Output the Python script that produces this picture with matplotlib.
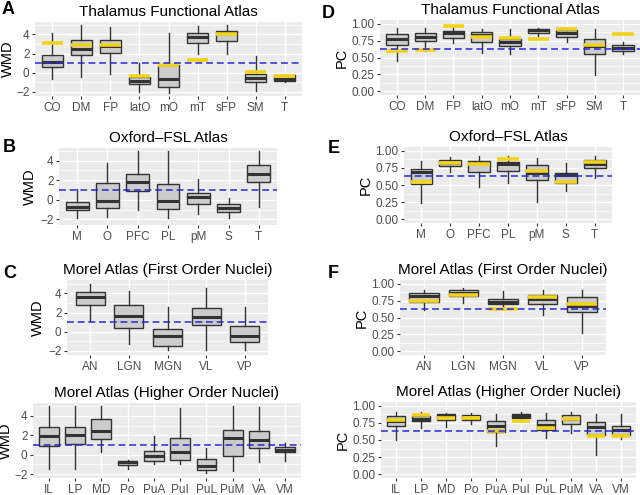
import matplotlib
matplotlib.use("Agg")
import matplotlib.pyplot as plt

plt.rcParams['font.family'] = ['Liberation Sans', 'DejaVu Sans']

# ---------------- data ----------------
# Panel A: Thalamus Functional Atlas (WMD)
a_cats = ["CO", "DM", "FP", "latO", "mO", "mT", "sFP", "SM", "T"]
a_whislo = [-0.65, -0.5, -0.15, -2.0, -2.1, 1.9, 1.9, -1.95, -0.95]
a_q1 = [0.55, 1.85, 2.1, -1.15, -1.55, 3.1, 3.3, -1.0, -0.9]
a_med = [1.13, 2.5, 2.75, -0.9, -0.65, 3.7, 4.1, -0.55, -0.65]
a_q3 = [1.8, 3.4, 3.4, -0.5, 0.8, 4.2, 4.4, -0.15, -0.3]
a_whishi = [4.2, 5.0, 4.75, 1.05, 4.2, 4.9, 5.0, 1.75, -0.25]
a_yellow = [3.1, 2.9, 2.85, -0.4, 0.8, 1.3, 4.05, 0.03, -0.4]

# Panel D: Thalamus Functional Atlas (PC)
d_cats = a_cats
d_whislo = [0.45, 0.60, 0.72, 0.56, 0.545, 0.82, 0.725, 0.235, 0.545]
d_q1 = [0.69, 0.745, 0.785, 0.725, 0.675, 0.86, 0.80, 0.55, 0.595]
d_med = [0.77, 0.80, 0.86, 0.835, 0.735, 0.90, 0.86, 0.67, 0.645]
d_q3 = [0.85, 0.86, 0.885, 0.875, 0.775, 0.92, 0.90, 0.77, 0.685]
d_whishi = [0.935, 0.935, 0.96, 0.92, 0.92, 0.935, 0.935, 0.92, 0.725]
d_yellow = [0.60, 0.61, 0.96, 0.80, 0.795, 0.77, 0.92, 0.685, 0.85]

# Panel B: Oxford-FSL Atlas (WMD)
b_cats = ["M", "O", "PFC", "PL", "pM", "S", "T"]
b_whislo = [-1.9, -1.8, -1.05, -1.9, -1.5, -1.9, -0.72]
b_q1 = [-1.06, -0.8, 0.9, -0.95, -0.38, -1.23, 1.77]
b_med = [-0.72, -0.1, 1.77, -0.14, 0.3, -0.82, 2.6]
b_q3 = [-0.2, 1.75, 2.6, 1.57, 0.65, -0.48, 3.55]
b_whishi = [1.06, 3.8, 5.0, 5.0, 2.08, 0.2, 5.0]

# Panel E: Oxford-FSL Atlas (PC)
e_cats = b_cats
e_whislo = [0.23, 0.69, 0.465, 0.53, 0.257, 0.41, 0.597]
e_q1 = [0.52, 0.78, 0.69, 0.70, 0.57, 0.524, 0.75]
e_med = [0.69, 0.815, 0.815, 0.80, 0.68, 0.645, 0.80]
e_q3 = [0.73, 0.87, 0.855, 0.84, 0.79, 0.67, 0.864]
e_whishi = [0.854, 0.91, 0.92, 0.92, 0.89, 0.825, 0.92]
e_yellow = [0.55, 0.815, 0.80, 0.88, 0.70, 0.55, 0.83]

# Panel C: Morel Atlas, first order nuclei (WMD)
c_cats = ["AN", "LGN", "MGN", "VL", "VP"]
c_whislo = [1.07, -1.24, -1.93, -1.86, -1.93]
c_q1 = [2.8, 0.38, -1.45, 0.69, -1.07]
c_med = [3.59, 1.66, -0.41, 1.55, -0.48]
c_q3 = [4.17, 2.8, 0.31, 2.52, 0.55]
c_whishi = [5.0, 4.28, 2.62, 4.5, 2.62]

# Panel F: Morel Atlas, first order nuclei (PC)
f_cats = c_cats
f_whislo = [0.61, 0.71, 0.62, 0.537, 0.27]
f_q1 = [0.736, 0.82, 0.70, 0.70, 0.577]
f_med = [0.82, 0.87, 0.736, 0.77, 0.67]
f_q3 = [0.87, 0.91, 0.776, 0.835, 0.80]
f_whishi = [0.91, 0.935, 0.885, 0.91, 0.90]
f_yellow = [0.75, 0.835, 0.62, 0.81, 0.70]

# Panel G: Morel Atlas, higher order nuclei (WMD)
g_cats = ["IL", "LP", "MD", "Po", "PuA", "PuI", "PuL", "PuM", "VA", "VM"]
g_whislo = [-1.47, -1.47, 0.24, -1.47, -1.0, -0.96, -1.92, -1.64, -0.72, -0.62]
g_q1 = [0.86, 1.1, 1.6, -1.06, -0.68, -0.51, -1.58, -0.1, 0.65, 0.24]
g_med = [1.88, 2.0, 2.47, -0.79, -0.1, 0.24, -1.13, 1.75, 1.5, 0.51]
g_q3 = [2.9, 2.9, 3.66, -0.62, 0.41, 1.71, -0.45, 2.53, 2.47, 0.75]
g_whishi = [5.0, 5.0, 5.0, -0.5, 1.88, 4.86, 0.65, 5.0, 4.93, 1.2]

# Panel H: Morel Atlas, higher order nuclei (PC)
h_cats = g_cats
h_whislo = [0.505, 0.68, 0.69, 0.74, 0.416, 0.78, 0.53, 0.60, 0.28, 0.515]
h_q1 = [0.70, 0.777, 0.79, 0.79, 0.614, 0.817, 0.653, 0.74, 0.58, 0.58]
h_med = [0.78, 0.81, 0.85, 0.82, 0.70, 0.85, 0.72, 0.81, 0.69, 0.65]
h_q3 = [0.85, 0.85, 0.876, 0.86, 0.777, 0.876, 0.79, 0.86, 0.76, 0.71]
h_whishi = [0.91, 0.91, 0.90, 0.90, 0.876, 0.91, 0.90, 0.91, 0.876, 0.876]
h_yellow = [0.79, 0.86, 0.827, 0.827, 0.63, 0.777, 0.68, 0.80, 0.565, 0.555]

wmd_ticks = [-2, 0, 2, 4]
wmd_labels = ["\u22122", "0", "2", "4"]
pc_ticks = [0.0, 0.25, 0.5, 0.75, 1.0]
pc_labels = ["0.00", "0.25", "0.50", "0.75", "1.00"]
wmd_ref = 1.0
pc_ref = 0.63

# ---------------- styling ----------------
W, H = 640, 495
fig = plt.figure(figsize=(W / 100, H / 100), dpi=100)

BG = "#EBEBEB"
BOXFILL = "#CCCCCC"
EDGE = "#333333"
GOLD = "#F2D21B"
REFBLUE = "#2626D9"


def make_axes(x0, y0, x1, y1):
    return fig.add_axes([x0 / W, 1 - y1 / H, (x1 - x0) / W, (y1 - y0) / H])


def panel(rect, cats, whislo, q1, med, q3, whishi, yellow, ylim, ticks, labels,
          minor, ylabel, title, ref, ylabelpad=2):
    ax = make_axes(*rect)
    ax.set_facecolor(BG)
    for s in ax.spines.values():
        s.set_visible(False)
    n = len(cats)
    pos = list(range(1, n + 1))
    stats = []
    for i in range(n):
        stats.append(dict(med=med[i], q1=q1[i], q3=q3[i], whislo=whislo[i],
                          whishi=whishi[i], fliers=[]))
    ax.bxp(stats, positions=pos, widths=0.75, patch_artist=True, showcaps=False,
           showfliers=False,
           boxprops=dict(facecolor=BOXFILL, edgecolor=EDGE, linewidth=1.0),
           medianprops=dict(color=EDGE, linewidth=2.2, solid_capstyle='butt'),
           whiskerprops=dict(color=EDGE, linewidth=1.0), manage_ticks=False,
           zorder=3)
    if yellow is not None:
        ax.hlines(yellow, [p - 0.375 for p in pos], [p + 0.375 for p in pos],
                  color=GOLD, linewidth=2.6, zorder=4)
    ax.axhline(ref, color=REFBLUE, linewidth=1.1, dashes=(4.5, 2.5), zorder=5)
    ax.set_xlim(0.4, n + 0.6)
    ax.set_ylim(*ylim)
    ax.set_xticks(pos)
    ax.set_xticklabels(cats)
    ax.set_yticks(ticks)
    ax.set_yticklabels(labels)
    ax.set_yticks(minor, minor=True)
    ax.grid(True, which='major', color='white', linewidth=1.0, zorder=0)
    ax.grid(True, which='minor', axis='y', color='white', linewidth=0.5, zorder=0)
    ax.set_axisbelow(True)
    ax.tick_params(which='major', length=2.0, width=0.8, color=EDGE,
                   labelsize=8.5, labelcolor='#4D4D4D', pad=2.0)
    ax.tick_params(which='minor', length=0)
    ax.set_ylabel(ylabel, fontsize=10.5, labelpad=ylabelpad)
    ax.set_title(title, fontsize=11, pad=4)
    return ax


wmd_minor = [-1, 1, 3, 5]
pc_minor = [0.125, 0.375, 0.625, 0.875]

panel((35, 22, 302, 96), a_cats, a_whislo, a_q1, a_med, a_q3, a_whishi, a_yellow,
      (-2.45, 5.3), wmd_ticks, wmd_labels, wmd_minor, "WMD",
      "Thalamus Functional Atlas", wmd_ref, 1)
panel((380, 20, 640, 95), d_cats, d_whislo, d_q1, d_med, d_q3, d_whishi, d_yellow,
      (-0.055, 1.055), pc_ticks, pc_labels, pc_minor, "PC",
      "Thalamus Functional Atlas", pc_ref)
panel((59, 148, 277, 225), b_cats, b_whislo, b_q1, b_med, b_q3, b_whishi, None,
      (-2.58, 5.3), wmd_ticks, wmd_labels, wmd_minor, "WMD",
      "Oxford\u2013FSL Atlas", wmd_ref)
panel((404, 147, 612, 223), e_cats, e_whislo, e_q1, e_med, e_q3, e_whishi, e_yellow,
      (-0.055, 1.055), pc_ticks, pc_labels, pc_minor, "PC",
      "Oxford\u2013FSL Atlas", pc_ref)
panel((67, 280, 268, 355), c_cats, c_whislo, c_q1, c_med, c_q3, c_whishi, None,
      (-2.42, 5.38), wmd_ticks, wmd_labels, wmd_minor, "WMD",
      "Morel Atlas (First Order Nuclei)", wmd_ref)
panel((400, 280, 606, 355), f_cats, f_whislo, f_q1, f_med, f_q3, f_whishi, f_yellow,
      (-0.055, 1.055), pc_ticks, pc_labels, pc_minor, "PC",
      "Morel Atlas (First Order Nuclei)", pc_ref)
panel((33, 403, 301, 478), g_cats, g_whislo, g_q1, g_med, g_q3, g_whishi, None,
      (-2.4, 5.33), wmd_ticks, wmd_labels, wmd_minor, "WMD",
      "Morel Atlas (Higher Order Nuclei)", wmd_ref, 0.5)
panel((381, 402, 636, 478), h_cats, h_whislo, h_q1, h_med, h_q3, h_whishi, h_yellow,
      (-0.055, 1.055), pc_ticks, pc_labels, pc_minor, "PC",
      "Morel Atlas (Higher Order Nuclei)", pc_ref)

# panel letters
for letter, (x, y) in {"A": (2, 14), "B": (3, 152), "C": (3, 278),
                       "D": (322, 18), "E": (328, 153), "F": (328, 278)}.items():
    fig.text(x / W, 1 - y / H, letter, fontsize=13, fontweight='bold',
             ha='left', va='baseline')

fig.savefig("out.png", dpi=100)
